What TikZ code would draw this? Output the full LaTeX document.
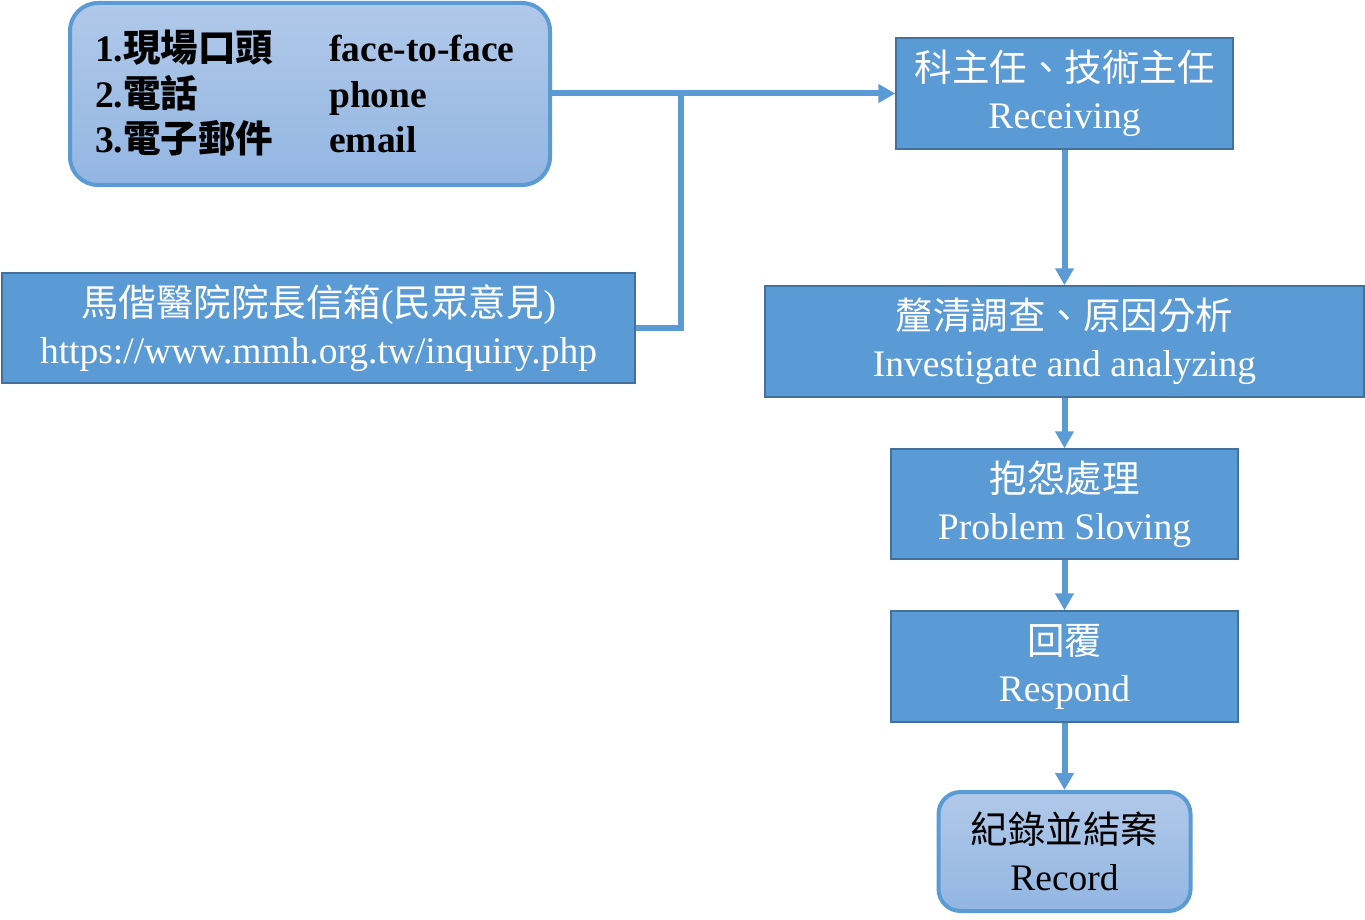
\documentclass[tikz,border=0pt]{standalone}
\usepackage{fontspec}
\setmainfont{Liberation Serif}
\newfontfamily\cjk{Noto Sans CJK TC}
\usetikzlibrary{arrows.meta}
\definecolor{bluefill}{RGB}{91,155,213}
\definecolor{blueedge}{RGB}{65,113,156}
\definecolor{lighttop}{RGB}{177,201,233}
\definecolor{lightbot}{RGB}{146,182,226}
\tikzset{
  procbox/.style={draw=blueedge, line width=1.5pt, fill=bluefill, text=white,
    inner sep=0pt, align=center, font=\fontsize{37.5}{47}\selectfont},
  softbox/.style={draw=bluefill, line width=4pt, rounded corners=28pt,
    top color=lighttop, bottom color=lightbot, inner sep=0pt, align=center,
    font=\fontsize{37.5}{47}\selectfont},
  flow/.style={draw=bluefill, line width=6pt, -{Triangle[length=17pt,width=18pt]}},
  link/.style={draw=bluefill, line width=6pt}
}
\begin{document}
\begin{tikzpicture}[x=1pt,y=-1pt]
\useasboundingbox[fill=white] (0,0) rectangle (1365,920);

\node[softbox, minimum width=480pt, minimum height=182pt] (src) at (310,94) {};
\node[anchor=west, inner sep=0pt, font=\fontsize{37.5}{45.5}\selectfont\bfseries] (srctext) at (95,98)
  {\begin{tabular}{@{}p{234pt}@{}l@{}}
   1.{\cjk 現場口頭} & face-to-face\\
   2.{\cjk 電話} & phone\\
   3.{\cjk 電子郵件} & email
   \end{tabular}};

\node[procbox, minimum width=633pt, minimum height=110pt] (mail) at (318.5,328)
  {{\cjk 馬偕醫院院長信箱}({\cjk 民眾意見})\\https://www.mmh.org.tw/inquiry.php};

\node[procbox, minimum width=337pt, minimum height=111pt] (recv) at (1064.5,93.5)
  {{\cjk 科主任、技術主任}\\Receiving};
\node[procbox, minimum width=599pt, minimum height=111pt] (inv) at (1064.5,341.5)
  {{\cjk 釐清調查、原因分析}\\Investigate and analyzing};
\node[procbox, minimum width=347pt, minimum height=110pt] (solve) at (1064.5,504)
  {{\cjk 抱怨處理}\\Problem Sloving};
\node[procbox, minimum width=347pt, minimum height=111pt] (resp) at (1064.5,666.5)
  {{\cjk 回覆}\\Respond};
\node[softbox, minimum width=252pt, minimum height=119pt, rounded corners=22pt] (rec) at (1064.5,851.5)
  {{\cjk 紀錄並結案}\\Record};

\coordinate (join) at (681,93.5);
\draw[flow] (src.east |- recv.west) -- (recv.west);
\draw[link] (mail.east) -| (join);
\draw[flow] (recv.south) -- (inv.north);
\draw[flow] (inv.south) -- (solve.north);
\draw[flow] (solve.south) -- (resp.north);
\draw[flow] (resp.south) -- (rec.north);
\end{tikzpicture}
\end{document}
